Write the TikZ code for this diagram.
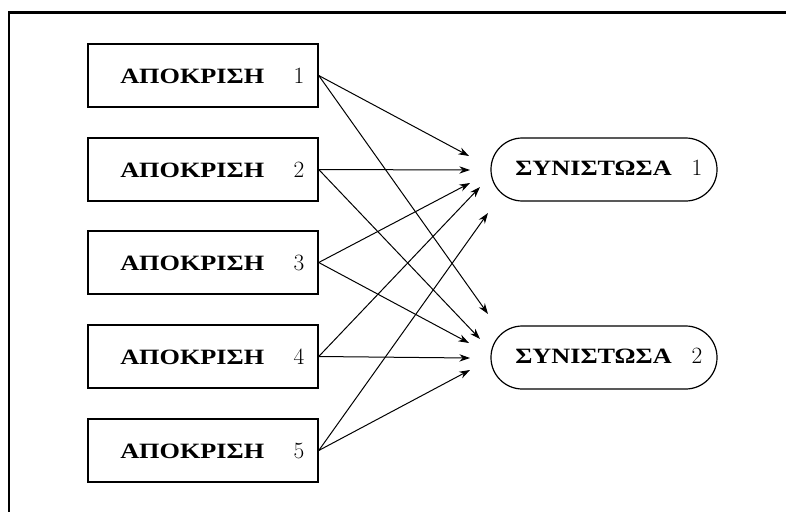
\documentclass[tikz,border=0pt]{standalone}
\usepackage{fontspec}
\usetikzlibrary{arrows.meta}
\newfontfamily\grfont{Liberation Serif}
\newcommand{\grword}[1]{\scalebox{1.2}[1]{\fontsize{16.4pt}{18pt}\grfont\bfseries #1}}
\newcommand{\numtxt}[1]{{\fontsize{17.5pt}{19pt}\selectfont #1}}
\begin{document}
\begin{tikzpicture}[x=0.75pt,y=-0.75pt,
  respbox/.style={draw, line width=1.1pt, minimum width=172.5pt, minimum height=47.25pt, inner sep=0pt},
  compbox/.style={draw, line width=0.9pt, rounded corners=23.5pt, minimum width=169.5pt, minimum height=47.25pt, inner sep=0pt},
  lbl/.style={anchor=base west, inner sep=0pt},
  num/.style={anchor=base, inner sep=0pt},
  conn/.style={line width=0.75pt, -{Stealth[length=8pt, width=5.5pt]}}]
\useasboundingbox (0,0) rectangle (786,511);
\draw[line width=1.6pt] (8.7,520) -- (8.7,12.5) -- (790,12.5);
% response boxes
\foreach \i/\y in {1/75.5,2/169.5,3/262.5,4/356.5,5/450.5}{
  \node[respbox] (r\i) at (203,\y) {};
  \node[lbl] (rl\i) at (120,\y+7.5) {\grword{ΑΠΟΚΡΙΣΗ}};
  \node[num] (rn\i) at (299,\y+7.5) {\numtxt{\i}};
}
% component ovals
\foreach \j/\y in {1/169.5,2/357.5}{
  \node[compbox] (c\j) at (604,\y) {};
  \node[lbl] (cl\j) at (515,\y+5.5) {\grword{ΣΥΝΙΣΤΩΣΑ}};
  \node[num] (cn\j) at (697,\y+5.5) {\numtxt{\j}};
}
% arrow tips
\coordinate (t11) at (469,156);
\coordinate (t21) at (470,170);
\coordinate (t31) at (470,183);
\coordinate (t41) at (480,187);
\coordinate (t51) at (488,213);
\coordinate (t12) at (488,314);
\coordinate (t22) at (480,339);
\coordinate (t32) at (469,343);
\coordinate (t42) at (470,358);
\coordinate (t52) at (470,370);
\foreach \i in {1,...,5}{
  \draw[conn] (r\i.east) -- (t\i1);
  \draw[conn] (r\i.east) -- (t\i2);
}
\end{tikzpicture}
\end{document}
